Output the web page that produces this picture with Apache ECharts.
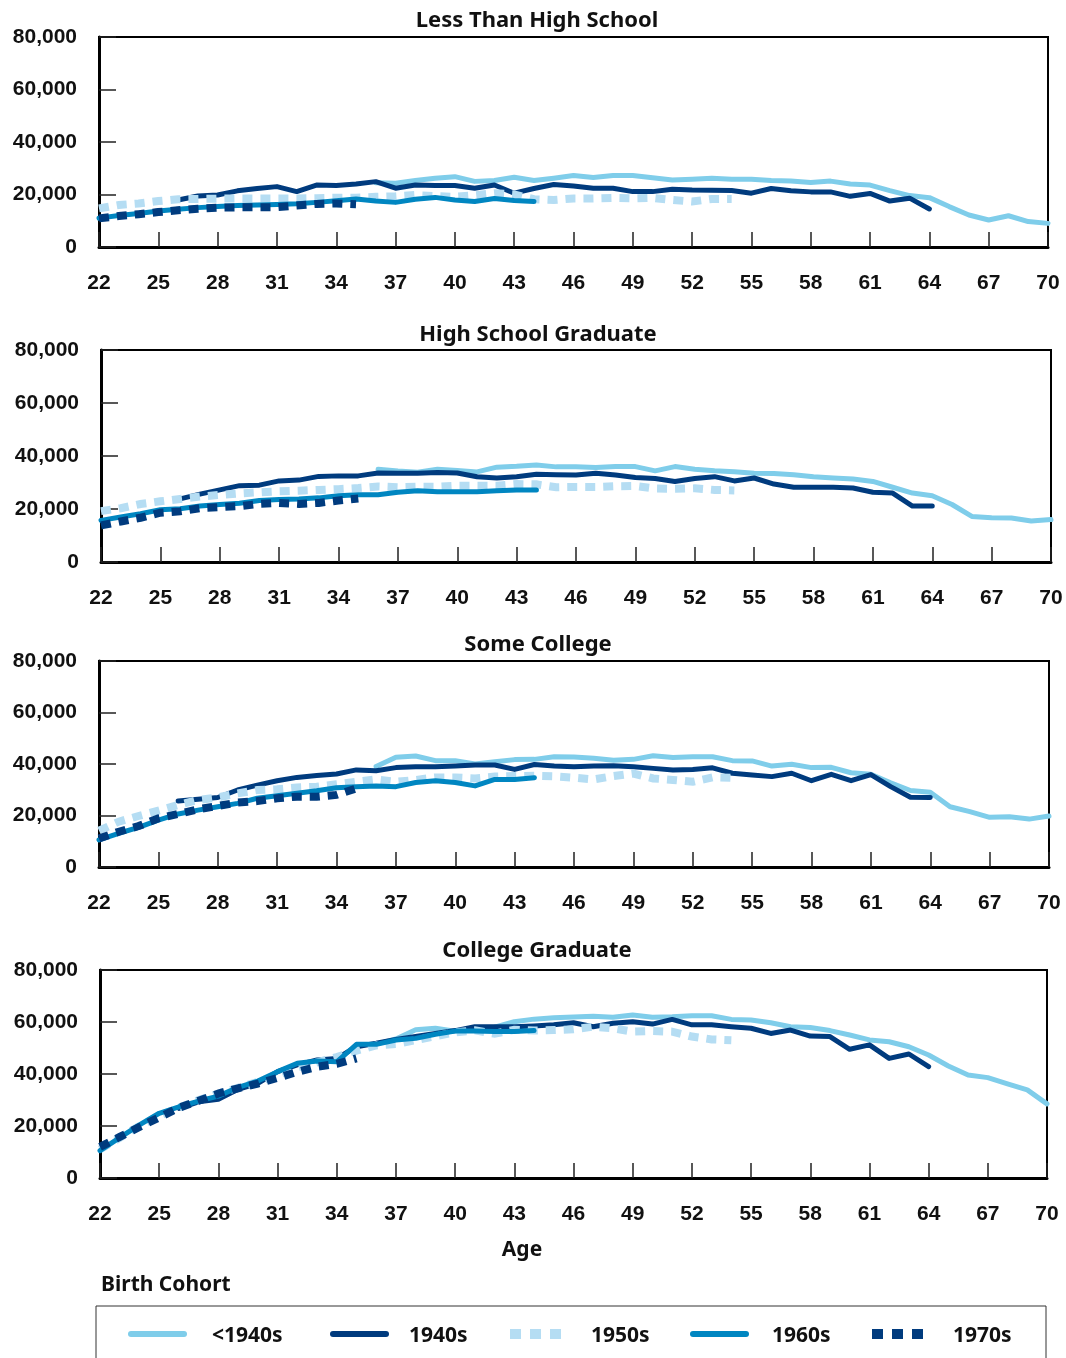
<!DOCTYPE html>
<html><head><meta charset="utf-8">
<script src="https://cdn.jsdelivr.net/npm/echarts@6/dist/echarts.min.js"></script>
<style>html,body{margin:0;padding:0;background:#fff}#c{width:1066px;height:1358px}</style>
</head><body><div id="c"></div><script>
// ---- data ----
const ages = ['22','23','24','25','26','27','28','29','30','31','32','33','34','35','36','37','38','39','40','41','42','43','44','45','46','47','48','49','50','51','52','53','54','55','56','57','58','59','60','61','62','63','64','65','66','67','68','69','70'];
const cohorts = ['<1940s','1940s','1950s','1960s','1970s'];
const cohortStartAge = [36, 26, 22, 22, 22];
const panelTitles = ['Less Than High School','High School Graduate','Some College','College Graduate'];
const yTicks = [0, 20000, 40000, 60000, 80000];
const xAxisName = 'Age';
const legendTitle = 'Birth Cohort';

// Less Than High School
const lths_pre1940 = [24500,24300,25300,26200,26800,25000,25300,26600,25300,26200,27200,26500,27200,27200,26400,25500,25800,26200,25800,25800,25300,25100,24600,25100,24000,23600,21500,19600,18800,15400,12200,10300,11900,9700,9000];
const lths_1940s = [17900,19400,19800,21400,22300,23000,21100,23600,23400,24000,24900,22400,23600,23400,23400,22400,23600,20500,22300,23800,23200,22400,22400,21100,21100,22000,21700,21600,21500,20500,22300,21400,21000,21000,19300,20400,17500,18600,14500];
const lths_1950s = [14700,16000,16600,17500,18200,18300,18400,18500,18500,18500,18500,18600,18800,18800,19100,19300,19800,19400,19100,19700,20500,20000,18200,17900,18500,18500,18700,18500,18700,17900,17300,18300,18300];
const lths_1960s = [11000,12000,12800,13700,14400,15000,15400,15800,16000,16200,16500,17000,17600,18300,17500,17000,18200,18900,17900,17300,18500,17700,17300];
const lths_1970s = [10900,11800,12500,13300,14000,14600,15000,15100,15100,15200,15800,16400,16600,16300];

// High School Graduate
const hsg_pre1940 = [35000,34300,33900,35000,34500,34000,35800,36100,36600,35900,35900,35700,36000,36000,34400,36000,35000,34400,34100,33500,33400,32900,32200,31700,31300,30400,28200,26000,25000,21700,17200,16700,16600,15500,16000];
const hsg_1940s = [23800,25600,27200,28800,29000,30600,30900,32300,32500,32500,33600,33500,33500,33800,33600,32200,31700,32200,33100,32900,32800,33500,32800,31900,31500,30400,31500,32200,30600,31700,29400,28200,28200,28200,27900,26300,26000,21100,21100];
const hsg_1950s = [19200,20300,21900,22900,23800,24700,25300,25900,26300,26700,26900,27200,27500,27900,28500,28200,28400,28400,28800,28800,28800,29400,29300,28200,28300,28300,28600,28700,27700,27600,27800,27200,27000];
const hsg_1960s = [15700,17000,18200,19700,20100,21100,21700,22200,23200,23600,23800,24200,25000,25400,25400,26300,26900,26500,26500,26500,26900,27200,27200];
const hsg_1970s = [13800,15300,16700,18600,19100,20300,20700,21100,21900,22300,21900,22300,23200,24000];

// Some College
const sc_pre1940 = [39000,42600,43100,41300,41300,40000,40900,41700,41800,42800,42700,42200,41500,41800,43200,42500,42800,42800,41300,41200,39200,39900,38600,38700,36600,36000,32700,29700,29000,23400,21500,19300,19500,18600,19800];
const sc_1940s = [25600,26300,27000,29900,31800,33500,34800,35500,36100,37700,37400,38600,38900,38900,39200,39600,39600,37900,39800,39200,38900,39200,39300,38900,38300,37700,37900,38500,36400,35700,35100,36400,33500,36000,33500,35900,31200,27100,27000];
const sc_1950s = [14100,17600,19800,21900,24100,26000,27000,28600,29900,30200,30900,31200,32100,33100,34000,33100,33800,34800,34800,34400,35100,35300,35400,35200,34700,34000,35300,36300,34400,33800,33100,34800,34600];
const sc_1960s = [10500,13100,15400,18200,20600,22100,23400,24700,26700,27700,28600,29600,30800,31200,31500,31200,32800,33500,32800,31500,34000,34000,34700];
const sc_1970s = [11100,13700,15900,18900,20600,22400,23700,25000,25600,26700,27300,27300,28000,30500];

// College Graduate
const cg_pre1940 = [51500,53500,57000,57600,56500,57500,58000,60100,61100,61600,61900,62200,61800,62700,61800,62000,62400,62400,61000,60800,59700,58200,57900,56700,55000,53100,52400,50500,47300,43100,39600,38600,36200,33900,28500];
const cg_1940s = [26800,29300,30300,34100,36400,40900,43500,45400,46000,50500,51800,53300,54400,55600,56700,58200,58200,58200,58500,58900,59700,58200,59500,60100,59200,61000,58900,58900,58200,57600,55600,56900,54600,54400,49500,51200,46000,47700,42800];
const cg_1950s = [11000,15500,20000,24000,27000,30000,32500,34700,37000,39500,42500,44500,46500,49000,51000,51500,53000,54500,56000,56800,55500,57000,56700,56900,57200,58200,57600,56300,56500,56300,54400,53300,53000];
const cg_1960s = [10500,15500,20400,24900,27400,29600,31500,34900,37300,40900,44100,45000,44700,51400,51400,53100,53700,55300,56500,56500,56300,56300,56700];
const cg_1970s = [12000,15800,19600,23300,27000,29700,32500,34500,36300,38500,40800,42800,43900,46000];

const panelData = [
  [lths_pre1940, lths_1940s, lths_1950s, lths_1960s, lths_1970s],
  [hsg_pre1940, hsg_1940s, hsg_1950s, hsg_1960s, hsg_1970s],
  [sc_pre1940, sc_1940s, sc_1950s, sc_1960s, sc_1970s],
  [cg_pre1940, cg_1940s, cg_1950s, cg_1960s, cg_1970s]
];

// ---- layout / style ----
const grids = [
  {left: 99, top: 37, width: 949, height: 210},
  {left: 101, top: 350, width: 950, height: 212},
  {left: 99, top: 661, width: 950, height: 206},
  {left: 100, top: 970, width: 947, height: 208}
];
const titleCenters = [[537, 21], [538, 335], [538, 645], [537, 951]];
const legendIconX = [128, 330, 510, 690, 872];
const legendTextX = [212, 409, 591, 772, 953];
const legendY = 1334;
const colors = ['#7fcdea', '#003b7e', '#b5ddf3', '#0086c1', '#003b7e'];
const dashed = [false, false, true, false, true];
const numFont = 'Liberation Sans, Arial, sans-serif';
const txtFont = '"Noto Sans", "Open Sans", sans-serif';

function pad(startAge, vals) {
  const out = ages.map(() => null);
  const s = ages.indexOf(String(startAge));
  vals.forEach((v, i) => { out[s + i] = v; });
  return out;
}
function fmt(v) { return v.toString().replace(/\B(?=(\d{3})+(?!\d))/g, ','); }

const xAxis = [], yAxis = [], series = [], graphic = [];
grids.forEach((g, p) => {
  graphic.push({type: 'text', x: titleCenters[p][0], y: titleCenters[p][1], silent: true,
    style: {text: panelTitles[p], fill: '#111', font: 'bold 22px ' + txtFont, align: 'center', verticalAlign: 'middle'}});
  xAxis.push({
    type: 'category', gridIndex: p, data: ages, boundaryGap: false,
    axisLine: {lineStyle: {color: '#000', width: 3}},
    axisTick: {inside: true, length: 15, interval: 2, lineStyle: {color: '#222', width: 1.5}},
    axisLabel: {interval: 2, margin: 26, fontFamily: numFont, fontSize: 21, fontWeight: 'bold', color: '#111'},
    splitLine: {show: false}
  });
  yAxis.push({
    type: 'value', gridIndex: p, min: yTicks[0], max: yTicks[yTicks.length - 1], interval: yTicks[1] - yTicks[0],
    axisLine: {show: true, lineStyle: {color: '#000', width: 3}},
    axisTick: {show: true, inside: true, length: 17, lineStyle: {color: '#222', width: 1.5}},
    axisLabel: {margin: 22, fontFamily: numFont, fontSize: 21, fontWeight: 'bold', color: '#111', formatter: fmt},
    splitLine: {show: false}
  });
  panelData[p].forEach((vals, k) => {
    series.push({
      name: cohorts[k], type: 'line', xAxisIndex: p, yAxisIndex: p,
      data: pad(cohortStartAge[k], vals), symbol: 'none', connectNulls: false, silent: true,
      z: 2 + k,
      lineStyle: dashed[k]
        ? {color: colors[k], width: 8, type: [10, 8], cap: 'butt', join: 'miter'}
        : {color: colors[k], width: 5, type: 'solid', cap: 'round', join: 'round'},
      itemStyle: {color: colors[k]}
    });
  });
});
graphic.push({type: 'text', x: 522, y: 1250, silent: true,
  style: {text: xAxisName, fill: '#111', font: 'bold 21px ' + txtFont, align: 'center', verticalAlign: 'middle'}});
graphic.push({type: 'text', x: 101, y: 1285, silent: true,
  style: {text: legendTitle, fill: '#111', font: 'bold 21px ' + txtFont, align: 'left', verticalAlign: 'middle'}});
graphic.push({type: 'rect', shape: {x: 96, y: 1306, width: 950, height: 80}, silent: true,
  style: {fill: 'none', stroke: '#333', lineWidth: 1}});
cohorts.forEach((name, k) => {
  graphic.push({type: 'line', silent: true,
    shape: dashed[k] ? {x1: legendIconX[k], y1: legendY, x2: legendIconX[k] + 52, y2: legendY}
                     : {x1: legendIconX[k] + 3, y1: legendY, x2: legendIconX[k] + 56, y2: legendY},
    style: dashed[k] ? {stroke: colors[k], lineWidth: 10, lineDash: [11, 9], lineCap: 'butt'}
                     : {stroke: colors[k], lineWidth: 6, lineCap: 'round'}});
  graphic.push({type: 'text', x: legendTextX[k], y: legendY + 2, silent: true,
    style: {text: name, fill: '#111', font: 'bold 21px ' + txtFont, align: 'left', verticalAlign: 'middle'}});
});

const chart = echarts.init(document.getElementById('c'), null, {renderer: 'canvas'});
chart.setOption({
  animation: false,
  backgroundColor: '#fff',
  grid: grids.map(g => Object.assign({show: true, borderColor: '#000', borderWidth: 2, backgroundColor: 'transparent'}, g)),
  xAxis: xAxis, yAxis: yAxis, series: series,
  graphic: graphic
});
</script></body></html>
